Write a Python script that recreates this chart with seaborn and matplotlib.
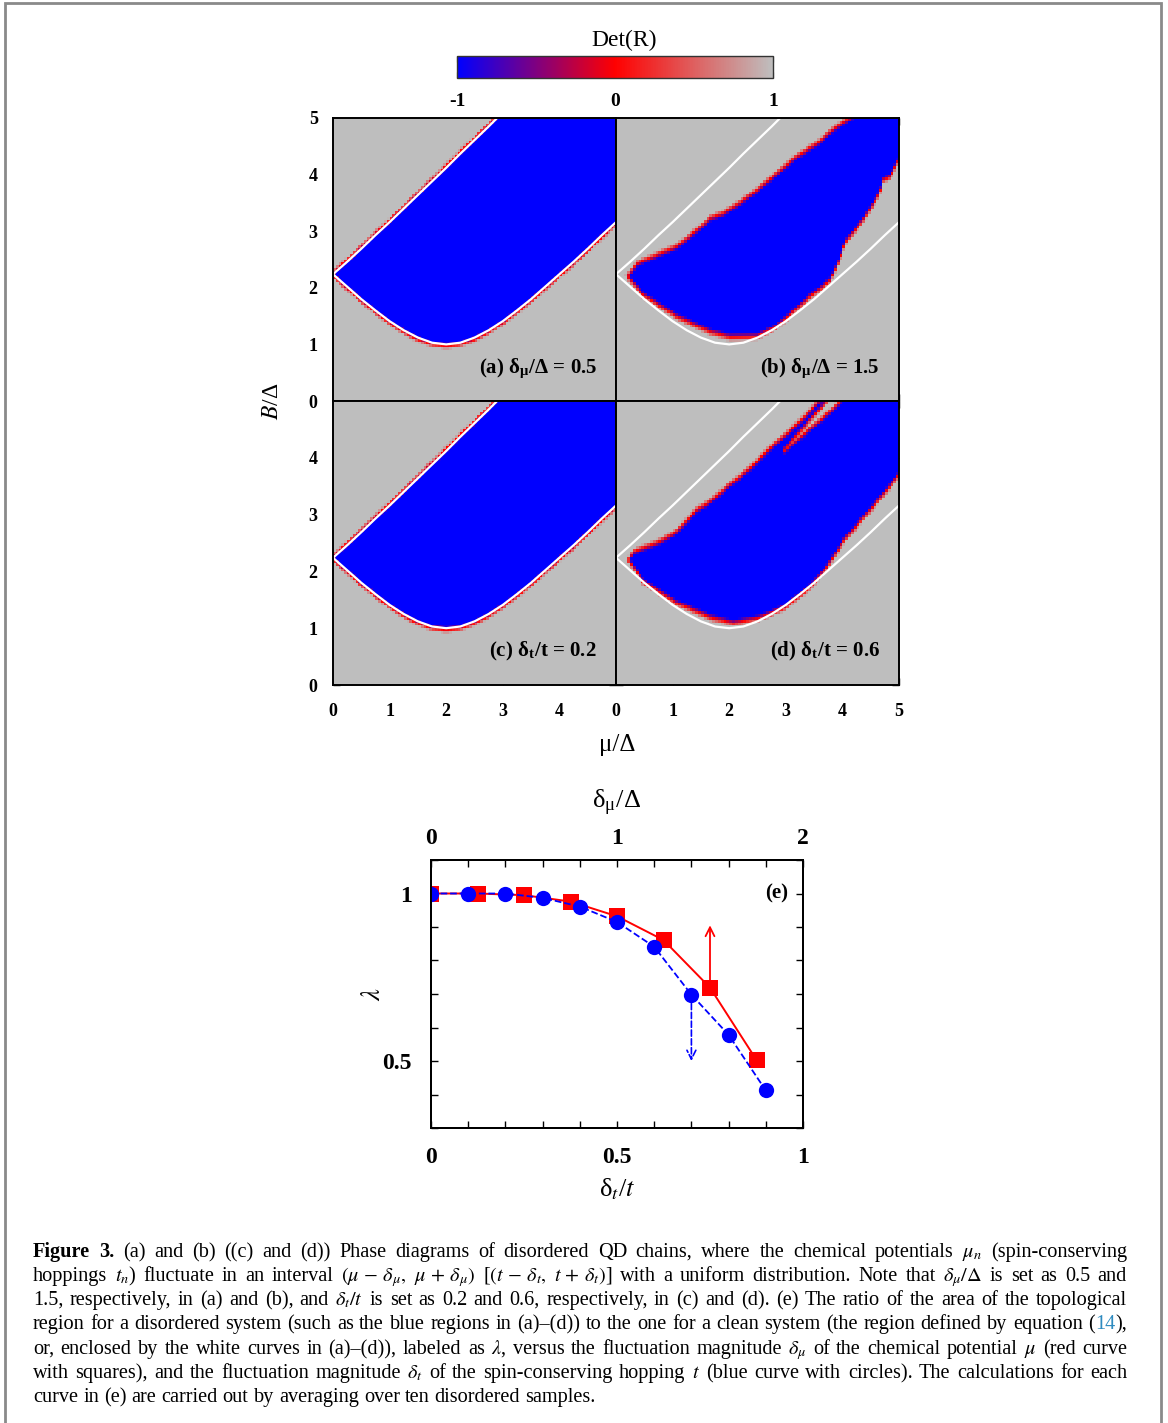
import numpy as np
import matplotlib
matplotlib.use("Agg")
import matplotlib.pyplot as plt
import seaborn as sns
from matplotlib.colors import LinearSegmentedColormap
from matplotlib.patches import Rectangle
from matplotlib.ticker import MultipleLocator, FixedLocator

# ---- clean-system boundary (white curves) ----
mu_clean_lo = [0, 0.25, 0.5, 0.75, 1.0, 1.25, 1.5, 1.75, 2.0, 2.25, 2.5, 2.75,
               3.0, 3.25, 3.5, 3.75, 4.0, 4.25, 4.5, 4.75, 5.0]
B_clean_lo = [2.24, 2.02, 1.80, 1.60, 1.41, 1.25, 1.12, 1.03, 1.00, 1.03, 1.12, 1.25,
              1.41, 1.60, 1.80, 2.02, 2.24, 2.46, 2.69, 2.93, 3.16]
mu_clean_up = [0, 0.25, 0.5, 0.75, 1.0, 1.25, 1.5, 1.75, 2.0, 2.25, 2.5, 2.75, 3.0]
B_clean_up = [2.24, 2.46, 2.69, 2.93, 3.16, 3.40, 3.64, 3.88, 4.12, 4.37, 4.61, 4.85, 5.10]

# ---- edges of the blue (Det(R) = -1) region in each panel ----
# (a) and (c): follow the clean boundary
mu_lo_a, B_lo_a = mu_clean_lo, B_clean_lo
mu_up_a, B_up_a = mu_clean_up + [5.0], B_clean_up + [5.6]

# (b) delta_mu / Delta = 1.5
mu_lo_b = [0.0, 0.2, 0.48, 1.07, 1.66, 2.01, 2.49, 2.84, 3.43, 3.78, 3.95, 4.05,
           4.37, 4.66, 4.72, 4.84, 5.0]
B_lo_b = [2.6, 2.2, 1.87, 1.49, 1.22, 1.13, 1.14, 1.31, 1.84, 2.12, 2.5, 2.8,
          3.2, 3.67, 3.9, 3.96, 4.26]
mu_up_b = [0.0, 0.2, 0.37, 0.78, 1.07, 1.43, 1.66, 1.9, 2.25, 2.49, 2.84, 3.19,
           3.55, 3.9, 4.13, 5.0]
B_up_b = [1.9, 2.2, 2.43, 2.61, 2.73, 3.02, 3.23, 3.32, 3.55, 3.73, 4.02, 4.32,
          4.55, 4.85, 5.0, 5.6]

# (d) delta_t / t = 0.6
mu_lo_d = [0.0, 0.22, 0.48, 1.07, 1.66, 2.07, 2.54, 2.96, 3.43, 3.72, 4.02, 4.37, 4.72, 5.0]
B_lo_d = [2.6, 2.2, 1.82, 1.44, 1.19, 1.09, 1.18, 1.35, 1.72, 2.06, 2.53, 2.94, 3.35, 3.70]
mu_up_d = [0.0, 0.22, 0.31, 0.78, 1.07, 1.43, 1.66, 2.01, 2.37, 2.72, 3.07, 3.43, 3.57, 5.0]
B_up_d = [1.9, 2.2, 2.35, 2.53, 2.70, 3.09, 3.23, 3.53, 3.82, 4.17, 4.47, 4.82, 5.0, 5.6]
# trivial sliver inside (d)
mu_gap_d = [2.93, 3.81, 4.0]
B_gap_d = [4.09, 4.97, 5.2]
hw_gap_d = [0.0, 0.13, 0.15]

# ---- panel (e) ----
dt_vals = [0.0, 0.1, 0.2, 0.3, 0.4, 0.5, 0.6, 0.7, 0.8, 0.9]          # delta_t / t
lam_t = [1.0, 1.0, 1.0, 0.987, 0.961, 0.915, 0.841, 0.698, 0.578, 0.412]
dmu_vals = [0.0, 0.25, 0.5, 0.75, 1.0, 1.25, 1.5, 1.75]               # delta_mu / Delta
lam_mu = [1.0, 1.0, 0.995, 0.976, 0.932, 0.861, 0.719, 0.503]
arrow_red_top = 0.905
arrow_blue_bottom = 0.50

W, H = 1168, 1423
N = 100
mu_edges = np.linspace(0, 5, N + 1)
B_edges = np.linspace(0, 5, N + 1)

sns.set_theme(style="ticks")
plt.rcParams.update({
    "font.family": ["Liberation Serif", "DejaVu Serif"],
    "mathtext.fontset": "stix",
    "axes.unicode_minus": False,
    "axes.linewidth": 1.4,
    "axes.edgecolor": "black",
    "text.color": "black",
    "axes.labelcolor": "black",
    "xtick.color": "black",
    "ytick.color": "black",
})

cmap = LinearSegmentedColormap.from_list(
    "detR", [(0.0, "#0000ff"), (0.5, "#ff0000"), (1.0, "#bebebe")])


def det_field(lo_mu, lo_B, up_mu, up_B, width, shift=0.0, gap=None):
    mc = 0.5 * (mu_edges[:-1] + mu_edges[1:])
    bc = 0.5 * (B_edges[:-1] + B_edges[1:])
    MU, BB = np.meshgrid(mc, bc)
    lo = np.interp(MU, lo_mu, lo_B)
    up = np.interp(MU, up_mu, up_B)
    d = np.minimum(BB - lo, up - BB)
    if gap is not None:
        g_mu, g_B, g_hw = gap
        cen = np.interp(MU, g_mu, g_B, left=np.nan, right=np.nan)
        hw = np.interp(MU, g_mu, g_hw)
        dg = np.where(np.isnan(cen), np.inf, np.abs(BB - cen) - hw)
        d = np.minimum(d, dg)
    return np.clip(-(d + shift) / width, -1, 1)


def px_axes(x0, y0, x1, y1):
    return fig.add_axes([x0 / W, 1 - y1 / H, (x1 - x0) / W, (y1 - y0) / H])


fig = plt.figure(figsize=(W / 100, H / 100), dpi=100)

panels = [
    ("a", (333, 118, 616, 401), (mu_lo_a, B_lo_a, mu_up_a, B_up_a), 0.06, 0.03, None,
     r"(a) δ$_\mathregular{μ}$/Δ = 0.5"),
    ("b", (616, 118, 899, 401), (mu_lo_b, B_lo_b, mu_up_b, B_up_b), 0.07, 0.0, None,
     r"(b) δ$_\mathregular{μ}$/Δ = 1.5"),
    ("c", (333, 401, 616, 685), (mu_lo_a, B_lo_a, mu_up_a, B_up_a), 0.06, 0.03, None,
     r"(c) δ$_\mathregular{t}$/t = 0.2"),
    ("d", (616, 401, 899, 685), (mu_lo_d, B_lo_d, mu_up_d, B_up_d), 0.07, 0.0,
     (mu_gap_d, B_gap_d, hw_gap_d), r"(d) δ$_\mathregular{t}$/t = 0.6"),
]

mesh = None
for key, box, edges, width, shift, gap, label in panels:
    ax = px_axes(*box)
    Z = det_field(*edges, width=width, shift=shift, gap=gap)
    m = ax.pcolormesh(mu_edges, B_edges, Z, cmap=cmap, vmin=-1, vmax=1,
                      shading="flat", rasterized=True)
    mesh = mesh or m
    sns.lineplot(x=mu_clean_lo, y=B_clean_lo, ax=ax, color="white", lw=1.6, sort=False)
    sns.lineplot(x=mu_clean_up, y=B_clean_up, ax=ax, color="white", lw=1.6, sort=False)
    ax.set_xlim(0, 5)
    ax.set_ylim(0, 5)
    ax.set_xticks(range(6))
    ax.set_yticks(range(6))
    ax.tick_params(direction="in", length=5, width=1, top=True, right=True,
                   labelbottom=key in "cd", labelleft=key in "ac", pad=11)
    if key == "c":
        ax.set_xticklabels(["0", "1", "2", "3", "4", ""])
        ax.set_yticklabels(["0", "1", "2", "3", "4", ""])
    else:
        ax.set_xticklabels([str(i) for i in range(6)])
        ax.set_yticklabels([str(i) for i in range(6)])
    for t in ax.get_xticklabels() + ax.get_yticklabels():
        t.set_fontsize(13)
        t.set_fontweight("bold")
    ax.tick_params(axis="x", pad=13)
    ax.text(0.933, 0.099, label, transform=ax.transAxes, ha="right", va="baseline",
            fontsize=15, fontweight="bold")

fig.text(272 / W, 1 - 401 / H, r"$B$/Δ", rotation=90, ha="center", va="center", fontsize=17)
fig.text(617 / W, 1 - 745 / H, "μ/Δ", ha="center", va="center", fontsize=18)

# ---- colour bar ----
cax = px_axes(457, 56, 773, 78)
cb = fig.colorbar(mesh, cax=cax, orientation="horizontal", ticks=[-1, 0, 1])
cb.outline.set_linewidth(1.0)
cb.outline.set_edgecolor("#333333")
cax.xaxis.set_minor_locator(FixedLocator([-0.5, 0.5]))
cax.tick_params(which="both", direction="in", top=True, bottom=True, length=4,
                width=0.8, pad=11)
cax.set_xticklabels(["-1", "0", "1"], fontsize=14, fontweight="bold")
fig.text(624 / W, 1 - 40 / H, "Det(R)", ha="center", va="center", fontsize=17)

# ---- panel (e) ----
ax = px_axes(431, 860, 803, 1128)
ax_top = ax.twiny()
sns.lineplot(x=dmu_vals, y=lam_mu, ax=ax_top, color="#ff0000", lw=1.4, marker="s",
             markersize=11, markeredgewidth=0)
sns.lineplot(x=dt_vals, y=lam_t, ax=ax, color="#0000ff", lw=1.3, linestyle="--",
             marker="o", markersize=11, markeredgewidth=0)
ax_top.annotate("", xy=(dmu_vals[6], arrow_red_top), xytext=(dmu_vals[6], lam_mu[6]),
                arrowprops=dict(arrowstyle="->", color="#ff0000", lw=1.3,
                                mutation_scale=16, shrinkA=0, shrinkB=0))
ax.annotate("", xy=(dt_vals[7], arrow_blue_bottom), xytext=(dt_vals[7], lam_t[7]),
            arrowprops=dict(arrowstyle="->", color="#0000ff", lw=1.2, linestyle="--",
                            mutation_scale=16, shrinkA=0, shrinkB=0))
ax.set_zorder(ax_top.get_zorder() + 1)
ax.patch.set_visible(False)

ax.set_xlim(0, 1)
ax.set_ylim(0.3, 1.1)
ax_top.set_xlim(0, 2)
ax_top.set_ylim(0.3, 1.1)
ax.set_xticks([0, 0.5, 1])
ax.set_xticklabels(["0", "0.5", "1"])
ax.set_yticks([0.5, 1])
ax.set_yticklabels(["0.5", "1"])
ax.xaxis.set_minor_locator(MultipleLocator(0.1))
ax.yaxis.set_minor_locator(MultipleLocator(0.1))
ax_top.set_xticks([0, 1, 2])
ax_top.set_xticklabels(["0", "1", "2"])
ax_top.xaxis.set_minor_locator(MultipleLocator(0.2))
ax.tick_params(which="both", direction="in", length=5, width=1, right=True, pad=14)
ax_top.tick_params(which="both", direction="in", length=5, width=1, pad=8)
ax_top.tick_params(axis="y", left=False, right=False, labelleft=False, labelright=False)
for t in ax.get_xticklabels() + ax.get_yticklabels() + ax_top.get_xticklabels():
    t.set_fontsize(17)
    t.set_fontweight("bold")
ax.set_xlabel(r"δ$_t$/$t$", fontsize=19, labelpad=6)
ax_top.set_xlabel(r"δ$_\mathregular{μ}$/Δ", fontsize=19, labelpad=14)
ax.set_ylabel(r"$\lambda$", fontsize=19, labelpad=-2)
ax.text(0.93, (1.0 - 0.3) / 0.8, "(e)", transform=ax.transAxes, ha="center",
        va="center", fontsize=15, fontweight="bold")

# ---- caption ----
caption_lines = [
    r"Figure 3. (a) and (b) ((c) and (d)) Phase diagrams of disordered QD chains, where the chemical potentials $\mu_n$ (spin-conserving",
    r"hoppings $t_n$) fluctuate in an interval $(\mu\,-\,\delta_\mu,$ $\mu\,+\,\delta_\mu)$ [$(t\,-\,\delta_t,$ $t\,+\,\delta_t)$] with a uniform distribution. Note that $\delta_\mu/\Delta$ is set as 0.5 and",
    r"1.5, respectively, in (a) and (b), and $\delta_t/t$ is set as 0.2 and 0.6, respectively, in (c) and (d). (e) The ratio of the area of the topological",
    r"region for a disordered system (such as the blue regions in (a)–(d)) to the one for a clean system (the region defined by equation (14),",
    r"or, enclosed by the white curves in (a)–(d)), labeled as $\lambda$, versus the fluctuation magnitude $\delta_\mu$ of the chemical potential $\mu$ (red curve",
    r"with squares), and the fluctuation magnitude $\delta_t$ of the spin-conserving hopping $t$ (blue curve with circles). The calculations for each",
    r"curve in (e) are carried out by averaging over ten disordered samples.",
]
baselines = [1257, 1281, 1305, 1329, 1354, 1378, 1402]
renderer = fig.canvas.get_renderer()
x_left, x_right = 33, 1127

# size the caption from the widest plain-text line (equation-number line)
probe = fig.text(0, 1, caption_lines[3], fontsize=14)
cap_fs = 14 * (x_right - x_left) / probe.get_window_extent(renderer).width * 0.995
probe.remove()


def split_words(line, first):
    words = []
    for i, tok in enumerate(line.split(" ")):
        if first and i < 2:
            words.append([(tok, {"fontweight": "bold"})])
        elif tok == "(14),":
            words.append([("(", {}), ("14", {"color": "#2e8bc0"}), ("),", {})])
        else:
            words.append([(tok, {})])
    return words


def place_line(words, fs, y, justify):
    arts = []
    for word in words:
        parts = []
        for txt, kw in word:
            t = fig.text(0, 1 - y / H, txt, fontsize=fs, ha="left", va="baseline", **kw)
            parts.append((t, t.get_window_extent(renderer).width))
        arts.append(parts)
    widths = [sum(w for _, w in p) for p in arts]
    space = 0.25 * fs * 100 / 72
    if justify:
        gap = max((x_right - x_left - sum(widths)) / (len(arts) - 1), 0.5 * space)
    else:
        gap = space
    x = x_left
    for parts, w in zip(arts, widths):
        for t, tw in parts:
            t.set_x(x / W)
            x += tw
        x += gap


for i, line in enumerate(caption_lines):
    place_line(split_words(line, i == 0), cap_fs, baselines[i], i < len(caption_lines) - 1)

fig.add_artist(Rectangle((5 / W, -0.01), 1156 / W, 1.01 - 3 / H, transform=fig.transFigure,
                         fill=False, edgecolor="#8a8a8a", lw=2))

fig.savefig("out.png", dpi=100)
